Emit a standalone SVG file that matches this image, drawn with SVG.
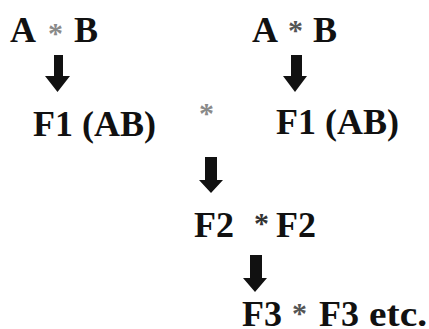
<svg xmlns="http://www.w3.org/2000/svg" width="429" height="329" viewBox="0 0 429 329">
  <style>
    .t { font-size: 36px; font-weight: bold; fill: #111; }
    .star { font-size: 30px; font-weight: bold; }
    .arrow { fill: #111; }
  </style>
  <rect width="429" height="329" fill="#fff"/>

  <g font-family="'Liberation Serif', 'Times New Roman', serif">
    <!-- parent crosses -->
    <g id="cross-left">
      <text class="t" x="10" y="42">A</text>
      <text class="star" x="48" y="43" fill="#8a8a8a">*</text>
      <text class="t" x="74" y="42">B</text>
    </g>
    <g id="cross-right">
      <text class="t" x="252" y="42">A</text>
      <text class="star" x="288" y="40" fill="#555" font-weight="normal">*</text>
      <text class="t" x="313" y="42">B</text>
    </g>

    <!-- first generation -->
    <g id="f1-left">
      <text class="t" x="33" y="136">F1 (AB)</text>
    </g>
    <g id="f1-cross">
      <text class="star" x="199" y="123" fill="#8a8a8a" font-weight="normal">*</text>
    </g>
    <g id="f1-right">
      <text class="t" x="276" y="134">F1 (AB)</text>
    </g>

    <!-- later generations -->
    <g id="f2">
      <text class="t" x="194" y="237">F2</text>
      <text class="star" x="254" y="233" fill="#333" font-weight="normal">*</text>
      <text class="t" x="276" y="237">F2</text>
    </g>
    <g id="f3">
      <text class="t" x="242" y="326">F3</text>
      <text class="star" x="292" y="323" fill="#555" font-weight="normal">*</text>
      <text class="t" x="319" y="326">F3</text>
      <text class="t" x="369" y="326" textLength="58" lengthAdjust="spacingAndGlyphs">etc.</text>
    </g>
  </g>

  <!-- block arrows -->
  <g id="connectors">
    <polygon class="arrow" points="54,55 63,55 63,76 70,76 57.5,92 45,76 54,76"/>
    <polygon class="arrow" points="291,55 302,55 302,76 307,76 295,92 283,76 291,76"/>
    <polygon class="arrow" points="205,157 217,157 217,180 223,180 211,193 199,180 205,180"/>
    <polygon class="arrow" points="250,255 262,255 262,278 267,278 255,292 243,278 250,278"/>
  </g>
</svg>
